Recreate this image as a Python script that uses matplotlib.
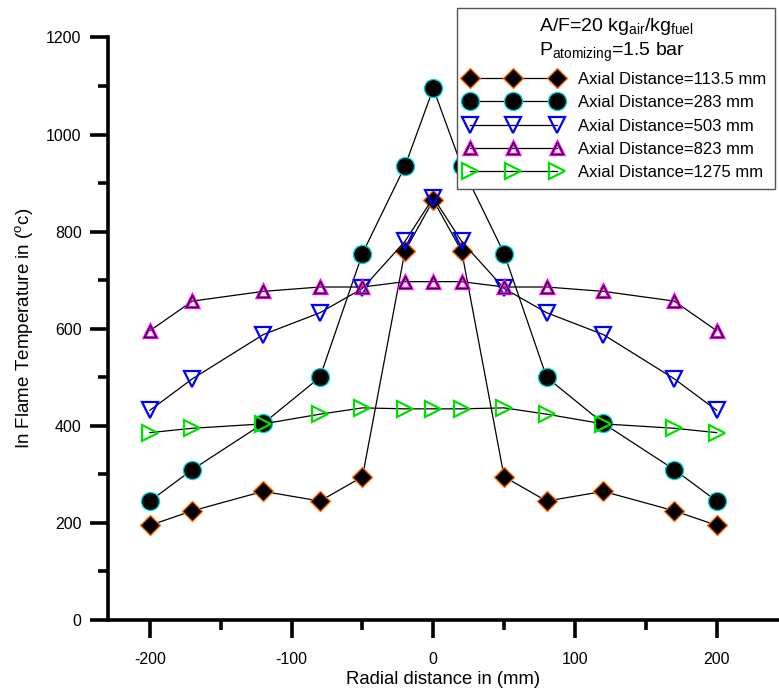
import numpy as np
import matplotlib
matplotlib.use('Agg')
import matplotlib.pyplot as plt
from matplotlib.ticker import MultipleLocator
from matplotlib.legend_handler import HandlerTuple

plt.rcParams['font.family'] = ['Liberation Sans', 'DejaVu Sans']
plt.rcParams['mathtext.fontset'] = 'custom'
plt.rcParams['mathtext.rm'] = 'Liberation Sans'
plt.rcParams['mathtext.it'] = 'Liberation Sans:italic'
plt.rcParams['axes.unicode_minus'] = False

# Radial positions (mm)
radial = [-200, -170, -120, -80, -50, -20, 0, 20, 50, 80, 120, 170, 200]

# Flame temperature (oC) at each axial distance
temp_113 = [195, 225, 265, 245, 295, 760, 865, 760, 295, 245, 265, 225, 195]
temp_283 = [245, 310, 405, 500, 755, 935, 1095, 935, 755, 500, 405, 310, 245]
temp_503 = [432, 497, 588, 633, 683, 780, 870, 780, 683, 633, 588, 497, 432]
temp_823 = [596, 657, 677, 686, 686, 697, 697, 697, 686, 686, 677, 657, 596]
temp_1275 = [386, 395, 404, 424, 437, 435, 435, 435, 437, 424, 404, 395, 386]

labels = ['Axial Distance=113.5 mm', 'Axial Distance=283 mm', 'Axial Distance=503 mm',
          'Axial Distance=823 mm', 'Axial Distance=1275 mm']

fig = plt.figure(figsize=(7.79, 6.90), dpi=100)
ax = fig.add_axes([108 / 779, 70 / 690, 1 - 108 / 779, 582.5 / 690])

lw = 0.9
h1, = ax.plot(radial, temp_113, color='black', lw=lw, marker='D', ms=10.5,
              mfc='black', mec='#FF6A00', mew=1.0)
h2, = ax.plot(radial, temp_283, color='black', lw=lw, marker='o', ms=13,
              mfc='black', mec='#00D8D8', mew=1.0)
h3, = ax.plot(radial, temp_503, color='black', lw=lw, marker='v', ms=12,
              mfc='none', mec='#0000FF', mew=1.6)
h4, = ax.plot(radial, temp_823, color='black', lw=lw, marker='^', ms=9,
              mfc='none', mec='#FF00FF', mew=2.4)
h4b, = ax.plot(radial, temp_823, ls='none', marker='^', ms=9,
               mfc='none', mec='black', mew=0.8)
h5, = ax.plot(radial, temp_1275, color='black', lw=lw, marker='>', ms=12,
              mfc='none', mec='#00E000', mew=1.6)

ax.set_xlim(-229.6, 244)
ax.set_ylim(0, 1200)
ax.xaxis.set_major_locator(MultipleLocator(100))
ax.xaxis.set_minor_locator(MultipleLocator(50))
ax.yaxis.set_major_locator(MultipleLocator(200))
ax.yaxis.set_minor_locator(MultipleLocator(100))

for side in ['top', 'right']:
    ax.spines[side].set_visible(False)
for side in ['left', 'bottom']:
    ax.spines[side].set_linewidth(2.6)
ax.spines['left'].set_bounds(0, 1200)

ax.tick_params(which='major', direction='out', length=13, width=2.6, labelsize=11.5)
ax.tick_params(which='minor', direction='out', length=7, width=2.6)
ax.tick_params(axis='x', which='major', pad=10)
ax.tick_params(axis='y', which='major', pad=6)

ax.set_xlabel('Radial distance in (mm)', fontsize=13.3, labelpad=3)
ax.set_ylabel(r'In Flame Temperature in ($^{\mathrm{o}}$c)', fontsize=13.5, labelpad=8)

leg = ax.legend([h1, h2, h3, (h4, h4b), h5], labels,
                handler_map={tuple: HandlerTuple(ndivide=1)},
                title='A/F=20 kg$_{\\mathrm{air}}$/kg$_{\\mathrm{fuel}}$\n'
                      'P$_{\\mathrm{atomizing}}$=1.5 bar',
                title_fontsize=14, fontsize=12, numpoints=3,
                handlelength=5.8, handletextpad=1.0, labelspacing=0.5,
                borderpad=0.5, borderaxespad=0, fancybox=False, framealpha=1,
                edgecolor='#555555', loc='upper right',
                bbox_to_anchor=(775 / 779, 682 / 690), bbox_transform=fig.transFigure)
leg.get_frame().set_linewidth(1.0)

fig.savefig('out.png', dpi=100)
